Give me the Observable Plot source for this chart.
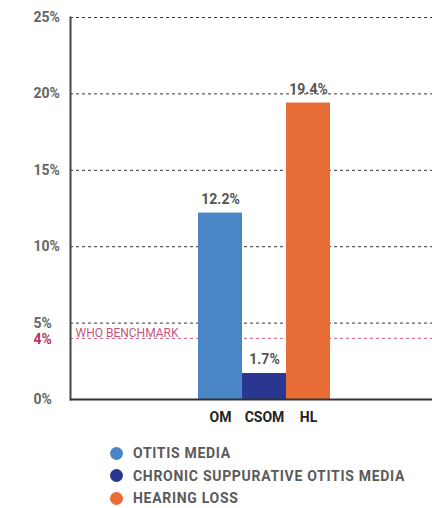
<!DOCTYPE html>
<html>
<head>
<meta charset="utf-8">
<script src="https://cdn.jsdelivr.net/npm/d3@7"></script>
<script src="https://cdn.jsdelivr.net/npm/@observablehq/plot@0.6"></script>
<style>
  html, body { margin: 0; padding: 0; background: #fff; }
  body { width: 432px; height: 508px; overflow: hidden; font-family: Roboto, "Noto Sans", sans-serif; }
  #legend { margin-left: 110px; margin-top: 12px; }
  .item { display: flex; align-items: center; height: 22.5px; font-size: 14px; font-weight: 700; color: #5a5a5a; letter-spacing: 0.7px; }
  .dot { width: 13px; height: 13px; border-radius: 50%; margin-right: 10px; }
</style>
</head>
<body>
<div id="chart"></div>
<div id="legend"></div>
<script>
const codes = ["OM", "CSOM", "HL"];
const names = ["OTITIS MEDIA", "CHRONIC SUPPURATIVE OTITIS MEDIA", "HEARING LOSS"];
const values = [12.2, 1.7, 19.4];
const colors = ["#4a86c6", "#2a3791", "#e86c35"];
const yTicks = [0, 5, 10, 15, 20, 25];
const benchmark = 4;
const benchmarkLabel = "WHO BENCHMARK";
const benchColor = "#b8335f";

const data = codes.map((c, i) => ({code: c, name: names[i], value: values[i]}));

const chart = Plot.plot({
  width: 432,
  height: 430,
  marginLeft: 70,
  marginRight: 0,
  marginTop: 17,
  marginBottom: 31,
  style: {fontFamily: "Roboto, 'Noto Sans', sans-serif", background: "#fff"},
  x: {type: "band", domain: codes, range: [197, 331], padding: 0, label: null},
  y: {domain: [0, 25], label: null, axis: null},
  color: {domain: codes, range: colors},
  marks: [
    Plot.ruleY(yTicks.filter(d => d > 0), {stroke: "#333", strokeWidth: 1, strokeDasharray: "3,3"}),
    Plot.ruleY([benchmark], {stroke: benchColor, strokeWidth: 1, strokeDasharray: "3,3", strokeOpacity: 0.8}),
    Plot.barY(data, {x: "code", y: "value", fill: "code"}),
    Plot.text(data, {x: "code", y: "value", text: d => d.value.toFixed(1) + "%", dy: -14, fontSize: 14, fontWeight: 700, fill: "#555", letterSpacing: 0.3}),
    Plot.text(yTicks, {y: d => d, text: d => d + "%", frameAnchor: "left", textAnchor: "start", dx: -37, fontSize: 14, fontWeight: 700, fill: "#666"}),
    Plot.text([benchmark], {y: d => d, text: d => d + "%", frameAnchor: "left", textAnchor: "start", dx: -37, dy: 1, fontSize: 14, fontWeight: 700, fill: benchColor}),
    Plot.text([benchmarkLabel], {y: () => benchmark, text: d => d, frameAnchor: "left", textAnchor: "start", dx: 5, dy: -5, fontSize: 12, fill: benchColor, fillOpacity: 0.85, letterSpacing: 0.4}),
    Plot.axisX({tickSize: 0, tickPadding: 13, fontSize: 14, fontWeight: 700, fill: "#222", label: null, letterSpacing: 0.8}),
    Plot.frame({anchor: "left", stroke: "#444", strokeWidth: 2}),
    Plot.ruleY([0], {stroke: "#333", strokeWidth: 2})
  ]
});
document.getElementById("chart").appendChild(chart);

const legend = document.getElementById("legend");
codes.forEach((c, i) => {
  const row = document.createElement("div");
  row.className = "item";
  const dot = document.createElement("span");
  dot.className = "dot";
  dot.style.background = colors[i];
  const label = document.createElement("span");
  label.textContent = names[i];
  row.appendChild(dot);
  row.appendChild(label);
  legend.appendChild(row);
});
</script>
</body>
</html>
